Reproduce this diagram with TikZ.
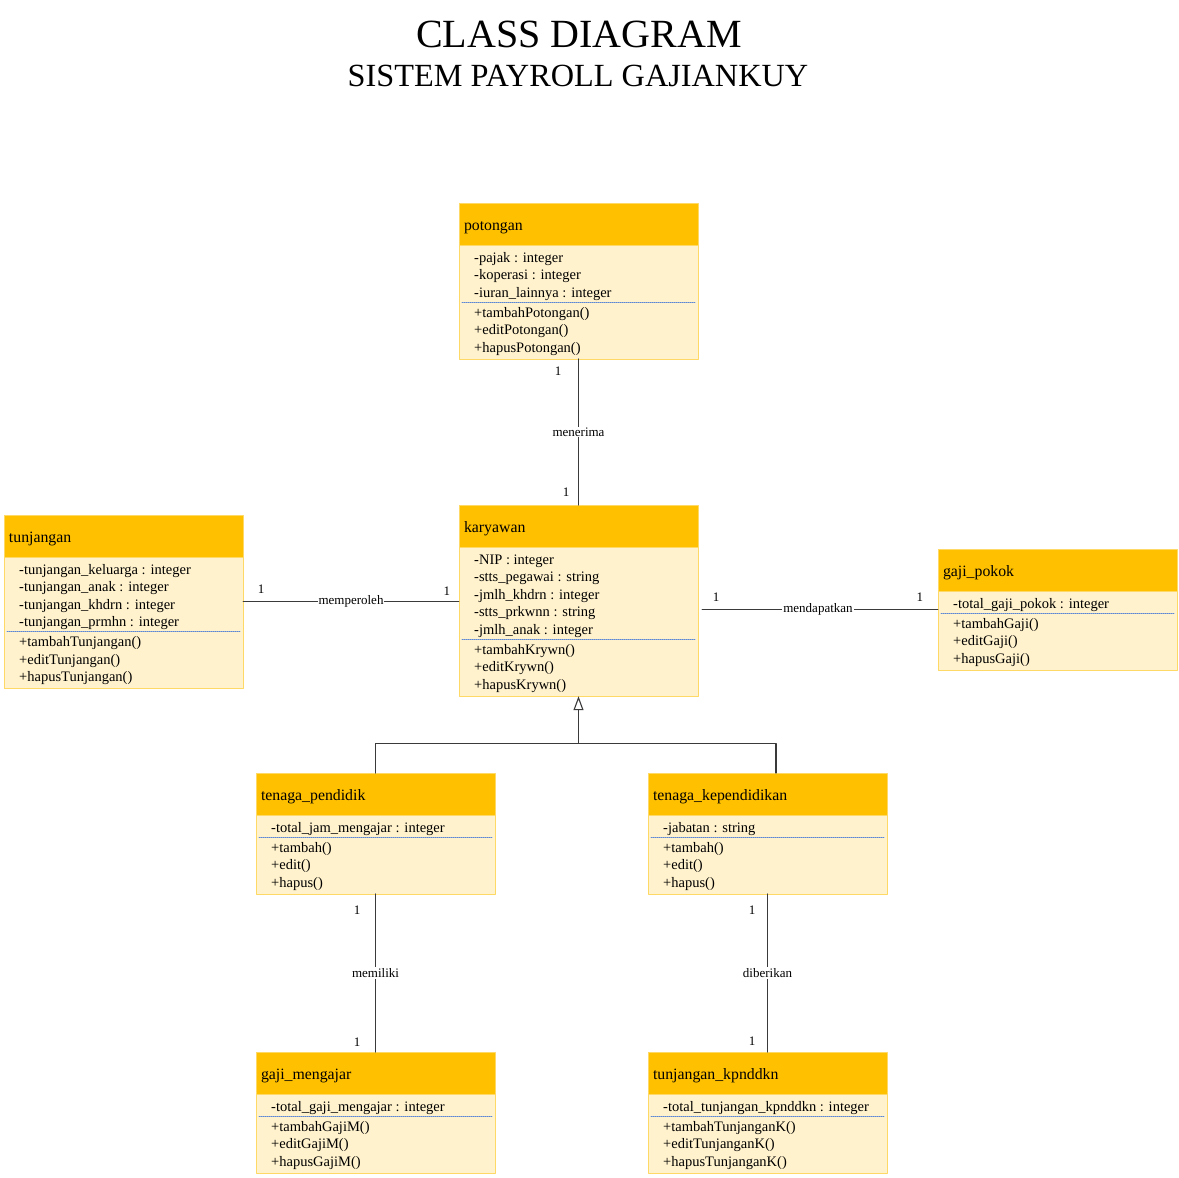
\documentclass[tikz,border=0pt]{standalone}
\usepackage{fontspec}
\setmainfont{Liberation Serif}
\usetikzlibrary{arrows.meta,positioning,fit}
\definecolor{umlHead}{HTML}{FFC000}
\definecolor{umlBody}{HTML}{FFF2CC}
\definecolor{umlEdge}{HTML}{FFD966}
\definecolor{umlDash}{HTML}{5A86D6}
\definecolor{umlLine}{HTML}{3A3A3A}

% one class box: name, x, y (top left), title, attributes, operations
\newcommand{\umlclass}[6]{%
  \foreach \t [count=\n] in {#5} {\xdef\nattr{\n}}
  \foreach \t [count=\n] in {#6} {\xdef\nop{\n}}
  \pgfmathsetmacro\bodyh{44+(\nattr+\nop-2)*17.5}
  \pgfmathsetmacro\sepy{22+(\nattr-1)*17.5}
  \node[classhead,anchor=north west] (#1) at (#2,#3) {#4};
  \node[classbody,minimum height=\bodyh pt,anchor=north] (#1-b) at (#1.south) {};
  \node[fit=(#1)(#1-b),inner sep=0pt] (#1-box) {};
  \draw[sepline] ([xshift=3pt,yshift=-\sepy pt]#1-b.north west) -- ([xshift=-3pt,yshift=-\sepy pt]#1-b.north east);
  \foreach \t [count=\n] in {#5}
    \node[member] at ([xshift=15pt,yshift=-14pt-(\n-1)*17.5pt]#1-b.north west) {\t};
  \foreach \t [count=\n] in {#6}
    \node[member] at ([xshift=15pt,yshift=-\sepy pt-12pt-(\n-1)*17.5pt]#1-b.north west) {\t};
}

\begin{document}
\begin{tikzpicture}[x=1pt,y=-1pt,>=Latex,line cap=round,line join=round]
\tikzset{classhead/.style={draw=umlEdge,fill=umlHead,line width=0.9pt,outer sep=0pt,inner xsep=5pt,text width=229pt,align=left,minimum height=42pt,text height=13.4pt,text depth=0pt,font=\fontsize{15.8}{18}\selectfont},
  classbody/.style={draw=umlEdge,fill=umlBody,line width=0.9pt,outer sep=0pt,inner sep=0pt,minimum width=239pt},
  member/.style={anchor=west,inner sep=0pt,font=\fontsize{14.5}{17}\selectfont},
  sepline/.style={draw=umlDash,line width=0.7pt,dash pattern=on 1pt off 1pt},
  assoc/.style={draw=umlLine,line width=1.1pt},
  assoclabel/.style={fill=white,inner sep=1pt,font=\fontsize{13}{15}\selectfont},
  mult/.style={inner sep=0pt,font=\fontsize{13}{15}\selectfont}}
\path[fill=white] (0,0) rectangle (1179,1178);
\node[font=\fontsize{40}{44}\selectfont] (title) at (579,34) {CLASS DIAGRAM};
\node[font=\fontsize{32.3}{36}\selectfont] (subtitle) at (578,76) {SISTEM PAYROLL GAJIANKUY};

\umlclass{pot}{459}{203}{potongan}{-pajak : integer,-koperasi : integer,-iuran\_lainnya : integer}{+tambahPotongan(),+editPotongan(),+hapusPotongan()}
\umlclass{kar}{459}{505}{karyawan}{-NIP : integer,-stts\_pegawai : string,-jmlh\_khdrn : integer,-stts\_prkwnn : string,-jmlh\_anak : integer}{+tambahKrywn(),+editKrywn(),+hapusKrywn()}
\umlclass{tun}{4}{515}{tunjangan}{-tunjangan\_keluarga : integer,-tunjangan\_anak : integer,-tunjangan\_khdrn : integer,-tunjangan\_prmhn : integer}{+tambahTunjangan(),+editTunjangan(),+hapusTunjangan()}
\umlclass{gp}{938}{549}{gaji\_pokok}{-total\_gaji\_pokok : integer}{+tambahGaji(),+editGaji(),+hapusGaji()}
\umlclass{tp}{256}{773}{tenaga\_pendidik}{-total\_jam\_mengajar : integer}{+tambah(),+edit(),+hapus()}
\umlclass{tk}{648}{773}{tenaga\_kependidikan}{-jabatan : string}{+tambah(),+edit(),+hapus()}
\umlclass{gm}{256}{1052}{gaji\_mengajar}{-total\_gaji\_mengajar : integer}{+tambahGajiM(),+editGajiM(),+hapusGajiM()}
\umlclass{tkp}{648}{1052}{tunjangan\_kpnddkn}{-total\_tunjangan\_kpnddkn : integer}{+tambahTunjanganK(),+editTunjanganK(),+hapusTunjanganK()}

% associations
\draw[assoc] (pot-b.south) -- node[assoclabel] (menerima) {menerima} (kar.north);
\node[mult] at ([xshift=-20.5pt,yshift=-12pt]pot-b.south) {1};
\node[mult] at ([xshift=-12.5pt,yshift=13pt]kar.north) {1};
\draw[assoc] (tun-box.east) -- node[assoclabel] (memperoleh) {memperoleh} (tun-box.east -| kar-box.west);
\node[mult] at ([xshift=18pt,yshift=13pt]tun-box.east) {1};
\node[mult] at ([xshift=-12pt,yshift=11pt]tun-box.east -| kar-box.west) {1};
\draw[assoc,shorten <=4pt] (gp-box.west -| kar-box.east) -- node[assoclabel] (mendapatkan) {mendapatkan} (gp-box.west);
\node[mult] at ([xshift=18pt,yshift=12pt]gp-box.west -| kar-box.east) {1};
\node[mult] at ([xshift=-18pt,yshift=12pt]gp-box.west) {1};
\draw[assoc] (tp-b.south) -- node[assoclabel] (memiliki) {memiliki} (gm.north);
\node[mult] at ([xshift=-18.5pt,yshift=-16pt]tp-b.south) {1};
\node[mult] at ([xshift=-18.5pt,yshift=10pt]gm.north) {1};
\draw[assoc] (tk-b.south) -- node[assoclabel] (diberikan) {diberikan} (tkp.north);
\node[mult] at ([xshift=-15.5pt,yshift=-16pt]tk-b.south) {1};
\node[mult] at ([xshift=-15.5pt,yshift=11pt]tkp.north) {1};

% generalisation
\coordinate (gen) at ([yshift=-47pt]kar-box.south);
\draw[assoc] (tp.north) |- (gen);
\draw[assoc] ([xshift=8.5pt]tk.north) |- (gen);
\draw[assoc,-{Triangle[open,fill=white,length=14pt,width=10pt]}] (gen) -- (kar-box.south);
\end{tikzpicture}
\end{document}
